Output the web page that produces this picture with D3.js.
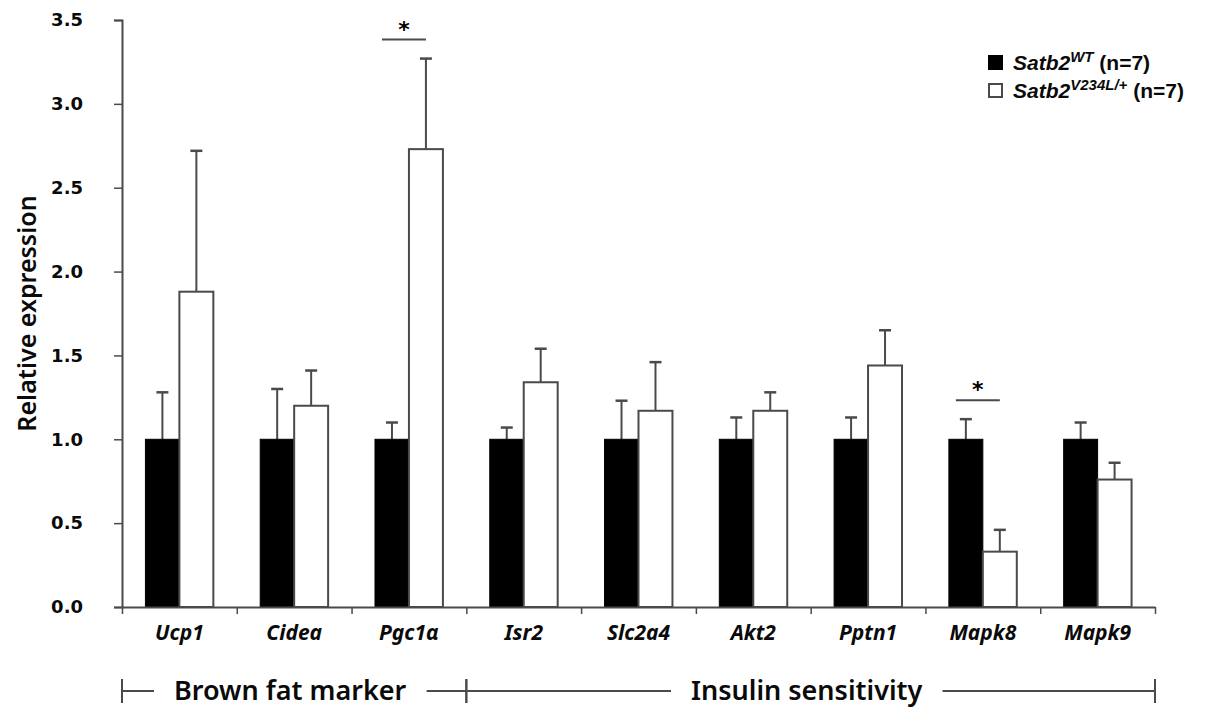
<!DOCTYPE html>
<html>
<head>
<meta charset="utf-8">
<script src="https://cdn.jsdelivr.net/npm/d3@7"></script>
<style>
  body { margin: 0; background: #fff; }
  .tick-y text { font-family: "DejaVu Sans", Verdana, sans-serif; font-weight: bold; font-size: 18px; fill: #0a0a0a; }
  .cat-axis text { font-family: "Noto Sans", sans-serif; font-weight: bold; font-style: italic; font-size: 21px; fill: #0a0a0a; }
  .axis-label { font-family: "Noto Sans", sans-serif; font-weight: 600; font-size: 25px; fill: #0a0a0a; }
  .group-label { font-family: "Noto Sans", sans-serif; font-weight: 600; font-size: 27px; fill: #0a0a0a; }
  .legend-text { font-family: "Liberation Sans", Arial, sans-serif; font-weight: bold; font-size: 21px; fill: #0a0a0a; }
</style>
</head>
<body>
<div id="chart"></div>
<script>
// data
const categories = ["Ucp1", "Cidea", "Pgc1\u03b1", "Isr2", "Slc2a4", "Akt2", "Pptn1", "Mapk8", "Mapk9"];
const series = ["WT", "V234L"];
const wtMean = [1.0, 1.0, 1.0, 1.0, 1.0, 1.0, 1.0, 1.0, 1.0];
const wtErr  = [0.28, 0.30, 0.10, 0.07, 0.23, 0.13, 0.13, 0.12, 0.10];
const mutMean = [1.88, 1.20, 2.73, 1.34, 1.17, 1.17, 1.44, 0.33, 0.76];
const mutErr  = [0.84, 0.21, 0.54, 0.20, 0.29, 0.11, 0.21, 0.13, 0.10];
const yTicks = [0, 0.5, 1.0, 1.5, 2.0, 2.5, 3.0, 3.5];
const significant = ["Pgc1\u03b1", "Mapk8"];
const groups = [
  { label: "Brown fat marker", first: "Ucp1", last: "Pgc1\u03b1" },
  { label: "Insulin sensitivity", first: "Isr2", last: "Mapk9" }
];

const W = 1210, H = 710;
const MARGIN = { TOP: 20, LEFT: 122, RIGHT: 55, BOTTOM: 103 };
const PLOT_W = W - MARGIN.LEFT - MARGIN.RIGHT;
const PLOT_H = H - MARGIN.TOP - MARGIN.BOTTOM;
const AXIS_COLOR = "#4a4a4a";

const svg = d3.select("#chart").append("svg")
    .attr("width", W)
    .attr("height", H);

const g = svg.append("g")
    .attr("transform", `translate(${MARGIN.LEFT}, ${MARGIN.TOP})`);

// scales
const x0 = d3.scaleBand()
    .domain(categories)
    .range([0, PLOT_W])
    .padding(0);

const x1 = d3.scaleBand()
    .domain(series)
    .range([0, x0.bandwidth()])
    .paddingInner(0)
    .paddingOuter(0.69);

const y = d3.scaleLinear()
    .domain([0, 3.5])
    .range([PLOT_H, 0]);

const rows = categories.map((c, i) => ({
  cat: c,
  vals: [
    { s: "WT", mean: wtMean[i], err: wtErr[i] },
    { s: "V234L", mean: mutMean[i], err: mutErr[i] }
  ]
}));

// bars
const catG = g.selectAll(".cat")
    .data(rows)
    .enter().append("g")
    .attr("class", "cat")
    .attr("transform", d => `translate(${x0(d.cat)}, 0)`);

const bar = catG.selectAll(".bar")
    .data(d => d.vals)
    .enter().append("g")
    .attr("class", "bar");

// error bars (upper only)
bar.append("line")
    .attr("x1", d => x1(d.s) + x1.bandwidth() / 2)
    .attr("x2", d => x1(d.s) + x1.bandwidth() / 2)
    .attr("y1", d => y(d.mean))
    .attr("y2", d => y(d.mean + d.err))
    .attr("stroke", AXIS_COLOR)
    .attr("stroke-width", 2);

bar.append("line")
    .attr("x1", d => x1(d.s) + x1.bandwidth() / 2 - 6)
    .attr("x2", d => x1(d.s) + x1.bandwidth() / 2 + 6)
    .attr("y1", d => y(d.mean + d.err))
    .attr("y2", d => y(d.mean + d.err))
    .attr("stroke", AXIS_COLOR)
    .attr("stroke-width", 2.5);

bar.append("rect")
    .attr("x", d => x1(d.s))
    .attr("y", d => y(d.mean))
    .attr("width", x1.bandwidth())
    .attr("height", d => y(0) - y(d.mean))
    .attr("fill", d => d.s === "WT" ? "#000" : "#fff")
    .attr("stroke", d => d.s === "WT" ? "#000" : AXIS_COLOR)
    .attr("stroke-width", d => d.s === "WT" ? 1 : 2);

// significance markers
significant.forEach(c => {
  const r = rows.find(d => d.cat === c);
  const top = d3.max(r.vals, v => v.mean + v.err);
  const ly = y(top) - 19;
  const xa = x0(c) + x1("WT") + x1.bandwidth() / 2 - 10;
  const xb = x0(c) + x1("V234L") + x1.bandwidth() / 2;
  g.append("line")
      .attr("x1", xa).attr("x2", xb)
      .attr("y1", ly).attr("y2", ly)
      .attr("stroke", AXIS_COLOR)
      .attr("stroke-width", 2);
  g.append("text")
      .attr("x", (xa + xb) / 2)
      .attr("y", ly - 3)
      .attr("text-anchor", "middle")
      .style("font-family", "DejaVu Sans, sans-serif")
      .style("font-weight", "bold")
      .style("font-size", "22px")
      .text("*");
});

// y axis
const yAxis = g.append("g")
    .attr("class", "tick-y")
    .call(d3.axisLeft(y)
        .tickValues(yTicks)
        .tickFormat(d3.format(".1f"))
        .tickSize(8)
        .tickSizeOuter(8)
        .tickPadding(31));
yAxis.select(".domain").attr("stroke", AXIS_COLOR).attr("stroke-width", 2);
yAxis.selectAll(".tick line").attr("stroke", AXIS_COLOR).attr("stroke-width", 1.5);

// x axis: boundary ticks
const xEdge = d3.scaleLinear().domain([0, categories.length]).range([0, PLOT_W]);
const xAxis = g.append("g")
    .attr("transform", `translate(0, ${PLOT_H})`)
    .call(d3.axisBottom(xEdge)
        .tickValues(d3.range(categories.length + 1))
        .tickFormat("")
        .tickSize(7)
        .tickSizeOuter(0));
xAxis.select(".domain").attr("stroke", AXIS_COLOR).attr("stroke-width", 2);
xAxis.selectAll(".tick line").attr("stroke", AXIS_COLOR).attr("stroke-width", 1.5);

// x axis: category labels
const catAxis = g.append("g")
    .attr("class", "cat-axis")
    .attr("transform", `translate(0, ${PLOT_H})`)
    .call(d3.axisBottom(x0).tickSize(0).tickPadding(18));
catAxis.select(".domain").remove();

// y label
g.append("text")
    .attr("class", "axis-label")
    .attr("transform", "rotate(-90)")
    .attr("x", -y(1.75))
    .attr("y", -MARGIN.LEFT + 36)
    .attr("text-anchor", "middle")
    .text("Relative expression");

// group brackets
const bracketY = PLOT_H + 84;
groups.forEach(gr => {
  const xs = x0(gr.first);
  const xe = x0(gr.last) + x0.bandwidth();
  const bg = g.append("g");
  bg.append("line")
      .attr("x1", xs).attr("x2", xe)
      .attr("y1", bracketY).attr("y2", bracketY)
      .attr("stroke", AXIS_COLOR).attr("stroke-width", 2);
  [xs, xe].forEach(xx => bg.append("line")
      .attr("x1", xx).attr("x2", xx)
      .attr("y1", bracketY - 12).attr("y2", bracketY + 12)
      .attr("stroke", AXIS_COLOR).attr("stroke-width", 2));
  const t = bg.append("text")
      .attr("class", "group-label")
      .attr("x", (xs + xe) / 2 - 4)
      .attr("y", bracketY + 9)
      .attr("text-anchor", "middle")
      .text(gr.label);
  const bb = t.node().getBBox();
  bg.insert("rect", "text")
      .attr("x", bb.x - 20)
      .attr("y", bracketY - 4)
      .attr("width", bb.width + 40)
      .attr("height", 8)
      .attr("fill", "#fff");
});

// legend
const legend = svg.append("g").attr("transform", "translate(988, 54)");
const legendItems = [
  { s: "WT", sup: "WT" },
  { s: "V234L", sup: "V234L/+" }
];
legendItems.forEach((it, i) => {
  const row = legend.append("g").attr("transform", `translate(0, ${i * 28})`);
  row.append("rect")
      .attr("x", 1).attr("y", 2)
      .attr("width", 13).attr("height", 13)
      .attr("fill", it.s === "WT" ? "#000" : "#fff")
      .attr("stroke", it.s === "WT" ? "#000" : AXIS_COLOR)
      .attr("stroke-width", 2);
  const t = row.append("text")
      .attr("class", "legend-text")
      .attr("x", 25)
      .attr("y", 16);
  t.append("tspan").style("font-style", "italic").text("Satb2");
  t.append("tspan").style("font-style", "italic").style("font-size", "15px")
      .attr("dy", -8).text(it.sup);
  t.append("tspan").attr("dy", 8).text(" (n=7)");
});
</script>
</body>
</html>
